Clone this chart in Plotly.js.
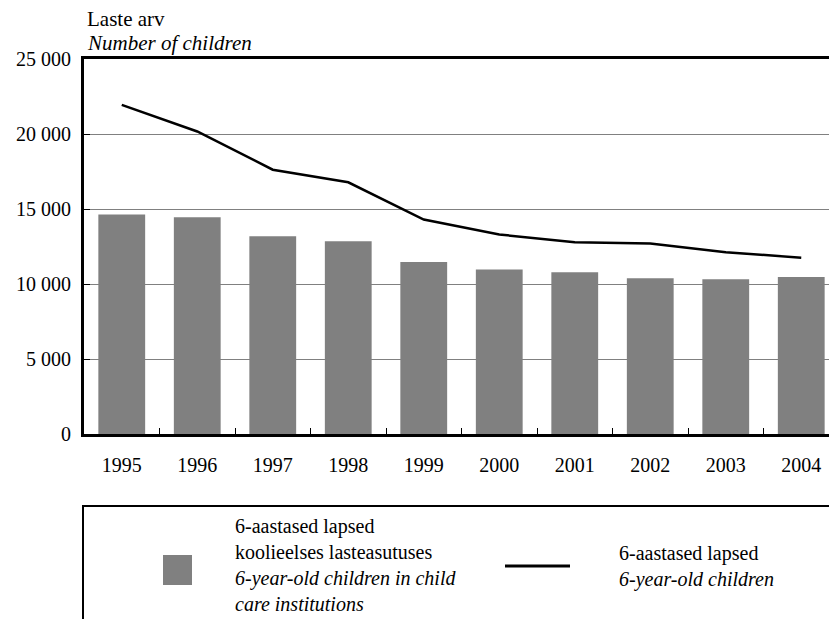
<!DOCTYPE html>
<html>
<head>
<meta charset="utf-8">
<script src="https://cdn.plot.ly/plotly-3.0.1.min.js"></script>
<style>
html, body { margin: 0; padding: 0; overflow: hidden; background: #fff; }
#chart { width: 850px; height: 619px; }
</style>
</head>
<body>
<div id="chart"></div>
<script>
const years = ['1995','1996','1997','1998','1999','2000','2001','2002','2003','2004'];
const childrenInCare = [14630, 14450, 13190, 12850, 11460, 10970, 10790, 10390, 10310, 10460];
const allChildren = [21940, 20170, 17620, 16780, 14300, 13300, 12790, 12700, 12120, 11750];
const yTickVals = [0, 5000, 10000, 15000, 20000, 25000];
const yTickText = ['0', '5 000', '10 000', '15 000', '20 000', '25 000'];
const yTitleEt = 'Laste arv';
const yTitleEn = 'Number of children';
const barNameEt = '6-aastased lapsed<br>koolieelses lasteasutuses';
const barNameEn = '6-year-old children in child<br>care institutions';
const lineNameEt = '6-aastased lapsed';
const lineNameEn = '6-year-old children';

// pixel helpers for paper coordinates (plot area 84..839 x, 59..434 y)
const L = 84, R = 839, T = 59, B = 434;
const px = v => (v - L) / (R - L);
const py = v => (B - v) / (B - T);

const font = { family: 'Liberation Serif, Times New Roman, serif', size: 20, color: '#000' };

const data = [
  {
    type: 'bar', x: years, y: childrenInCare, name: barNameEt,
    marker: { color: '#808080', line: { width: 0 } }, width: 0.62,
    showlegend: false, hoverinfo: 'x+y'
  },
  {
    type: 'scatter', mode: 'lines', x: years, y: allChildren, name: lineNameEt,
    line: { color: '#000', width: 2.5 }, showlegend: false, hoverinfo: 'x+y'
  }
];

const layout = {
  width: 850, height: 619,
  margin: { l: L, r: 850 - R, t: T, b: 619 - B, pad: 0 },
  paper_bgcolor: '#fff', plot_bgcolor: '#fff',
  font: font,
  showlegend: false,
  bargap: 0.38,
  xaxis: {
    type: 'category', showline: true, linecolor: '#000', linewidth: 3, mirror: true,
    ticks: 'inside', tickson: 'boundaries', ticklen: 6, tickcolor: '#000', tickwidth: 1,
    showgrid: false, zeroline: false, tickfont: font, ticklabelstandoff: 11
  },
  yaxis: {
    range: [0, 25000], tickvals: yTickVals, ticktext: yTickText,
    showline: true, linecolor: '#000', linewidth: 3, mirror: true,
    ticks: 'inside', ticklen: 6, tickcolor: '#000', tickwidth: 1,
    showgrid: true, gridcolor: '#808080', gridwidth: 1, zeroline: false,
    tickfont: font, ticklabelstandoff: 6
  },
  shapes: [
    { type: 'rect', xref: 'paper', yref: 'paper', x0: px(83), x1: px(900), y0: py(506), y1: py(700),
      line: { color: '#000', width: 2 }, fillcolor: 'rgba(0,0,0,0)' },
    { type: 'rect', xref: 'paper', yref: 'paper', x0: px(163), x1: px(192), y0: py(555), y1: py(585),
      line: { width: 0 }, fillcolor: '#808080' },
    { type: 'line', xref: 'paper', yref: 'paper', x0: px(505), x1: px(570), y0: py(566), y1: py(566),
      line: { color: '#000', width: 3 } }
  ],
  annotations: [
    { text: yTitleEt, xref: 'paper', yref: 'paper', x: px(85), y: py(19), xanchor: 'left', yanchor: 'middle',
      showarrow: false, font: Object.assign({}, font, { size: 21 }) },
    { text: '<i>' + yTitleEn + '</i>', xref: 'paper', yref: 'paper', x: px(85), y: py(43), xanchor: 'left', yanchor: 'middle',
      showarrow: false, font: Object.assign({}, font, { size: 21 }) },
    { text: barNameEt + '<br><i>' + barNameEn + '</i>', xref: 'paper', yref: 'paper', x: px(233), y: py(565),
      xanchor: 'left', yanchor: 'middle', align: 'left', showarrow: false, font: font },
    { text: lineNameEt + '<br><i>' + lineNameEn + '</i>', xref: 'paper', yref: 'paper', x: px(617), y: py(566),
      xanchor: 'left', yanchor: 'middle', align: 'left', showarrow: false, font: font }
  ]
};

Plotly.newPlot('chart', data, layout, { displayModeBar: false, staticPlot: true });
</script>
</body>
</html>
